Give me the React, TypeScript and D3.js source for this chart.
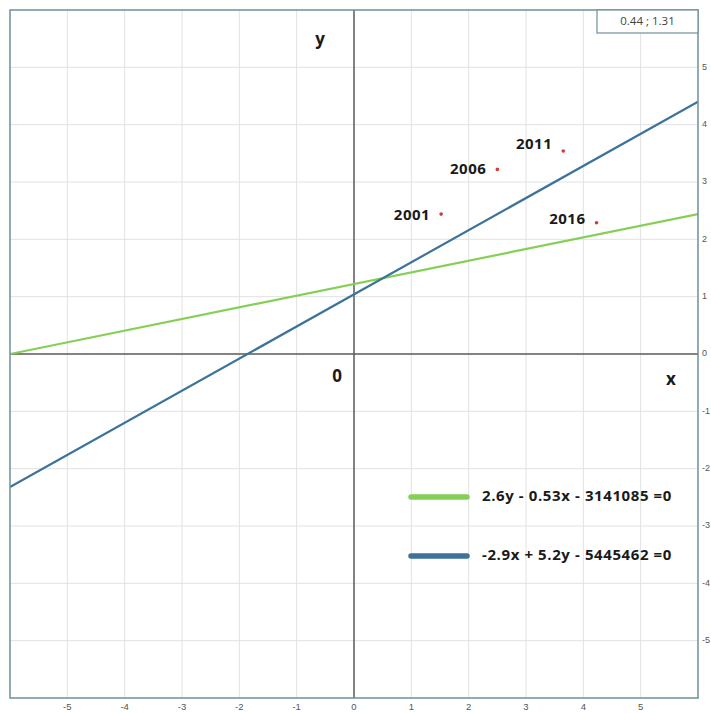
import React from "react";
import * as d3 from "d3";

// grid / tick values
const xTicks = [-5, -4, -3, -2, -1, 0, 1, 2, 3, 4, 5];
const yTicks = [5, 4, 3, 2, 1, 0, -1, -2, -3, -4, -5];
const gridVals = [-5, -4, -3, -2, -1, 1, 2, 3, 4, 5];

// observed points
const years = ["2001", "2006", "2011", "2016"];
const pointX = [1.52, 2.5, 3.65, 4.23];
const pointY = [2.44, 3.22, 3.54, 2.29];
const labelDy = [2, 1, -6, -3];

// regression lines, endpoints read at x = -6 and x = 6
const lineNames = ["2.6y - 0.53x - 3141085 =0", "-2.9x + 5.2y - 5445462 =0"];
const lineColors = ["#86cf57", "#3d7399"];
const lineX = [-6, 6];
const lineY = [
  [0, 2.44],
  [-2.32, 4.4],
];

const intersectLabel = "0.44 ; 1.31";

const W = 711;
const H = 713;
const left = 10;
const top = 10;
const right = 698;
const bottom = 698;

const App: React.FC = () => {
  const x = d3.scaleLinear().domain([-6, 6]).range([left, right]);
  const y = d3.scaleLinear().domain([-6, 6]).range([bottom, top]);

  const line = d3
    .line<[number, number]>()
    .x((d) => x(d[0]))
    .y((d) => y(d[1]));

  const font = "'Open Sans', 'DejaVu Sans', sans-serif";
  const tickFont = "'Liberation Sans', Arial, sans-serif";

  return (
    <svg
      width={W}
      height={H}
      style={{ position: "absolute", left: 0, top: 0, background: "#fff" }}
    >
      <defs>
        <clipPath id="plot">
          <rect x={left} y={top} width={right - left} height={bottom - top} />
        </clipPath>
      </defs>

      {/* grid */}
      <g stroke="#e2e2e2" strokeWidth={1}>
        {gridVals.map((v) => (
          <line key={"gx" + v} x1={x(v)} x2={x(v)} y1={top} y2={bottom} />
        ))}
        {gridVals.map((v) => (
          <line key={"gy" + v} x1={left} x2={right} y1={y(v)} y2={y(v)} />
        ))}
      </g>

      {/* axes */}
      <g stroke="#5a5a5a" strokeWidth={1.5}>
        <line x1={x(0)} x2={x(0)} y1={top} y2={bottom} />
        <line x1={left} x2={right} y1={y(0)} y2={y(0)} />
      </g>

      {/* lines */}
      <g clipPath="url(#plot)" fill="none">
        {lineY.map((ys, i) => (
          <path
            key={"l" + i}
            d={line(lineX.map((lx, j) => [lx, ys[j]]) as [number, number][]) || ""}
            stroke={lineColors[i]}
            strokeWidth={2.2}
          />
        ))}
      </g>

      {/* points */}
      {years.map((yr, i) => (
        <g key={yr}>
          <circle cx={x(pointX[i])} cy={y(pointY[i])} r={1.8} fill="#d23a3a" />
          <text
            x={x(pointX[i]) - 11}
            y={y(pointY[i]) + labelDy[i]}
            textAnchor="end"
            dominantBaseline="middle"
            fontFamily={font}
            fontWeight="bold"
            fontSize={15}
            letterSpacing={0.5}
            fill="#1a1a1a"
          >
            {yr}
          </text>
        </g>
      ))}

      {/* frame */}
      <rect
        x={left}
        y={top}
        width={right - left}
        height={bottom - top}
        fill="none"
        stroke="#6f8f99"
        strokeWidth={1.5}
      />

      {/* intersection box */}
      <rect x={597} y={top} width={right - 597} height={23} fill="#fff" stroke="#6f8f99" strokeWidth={1.2} />
      <text
        x={(597 + right) / 2}
        y={top + 12}
        textAnchor="middle"
        dominantBaseline="middle"
        fontFamily={font}
        fontSize={11.5}
        fill="#444"
      >
        {intersectLabel}
      </text>

      {/* axis names */}
      <g fontFamily={font} fontWeight="bold" fontSize={17} fill="#1a1a1a" dominantBaseline="middle">
        <text x={320} y={40} textAnchor="middle">y</text>
        <text x={671} y={380} textAnchor="middle">x</text>
        <text x={337} y={377} textAnchor="middle">0</text>
      </g>

      {/* bottom tick labels */}
      <g fontFamily={tickFont} fontSize={9.5} fill="#555" textAnchor="middle">
        {xTicks.map((v) => (
          <text key={"tx" + v} x={x(v)} y={710}>
            {v}
          </text>
        ))}
      </g>

      {/* right tick labels */}
      <g fontFamily={tickFont} fontSize={9} fill="#555" dominantBaseline="middle">
        {yTicks.map((v) => (
          <text key={"ty" + v} x={702} y={y(v)}>
            {v}
          </text>
        ))}
      </g>

      {/* legend */}
      {lineNames.map((name, i) => (
        <g key={name} transform={`translate(0,${497 + i * 59})`}>
          <line x1={411} x2={467} y1={0} y2={0} stroke={lineColors[i]} strokeWidth={5.5} strokeLinecap="round" />
          <text
            x={482}
            y={0}
            dominantBaseline="middle"
            fontFamily={font}
            fontWeight="bold"
            fontSize={15}
            letterSpacing={0.6}
            fill="#1a1a1a"
          >
            {name}
          </text>
        </g>
      ))}
    </svg>
  );
};

export default App;
